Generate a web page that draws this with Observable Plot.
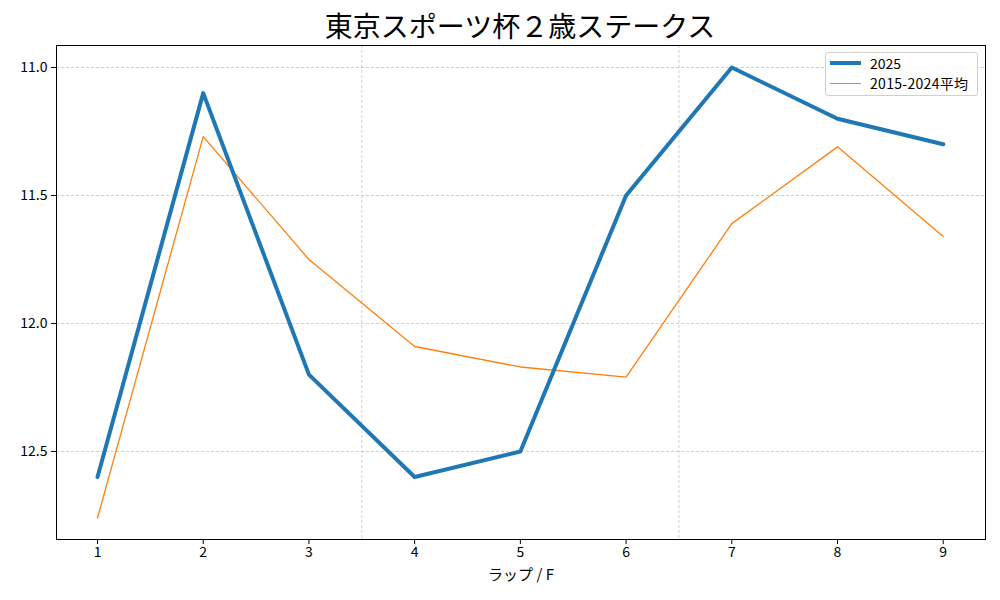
<!DOCTYPE html>
<html>
<head>
<meta charset="utf-8">
<script src="https://cdn.jsdelivr.net/npm/d3@7"></script>
<script src="https://cdn.jsdelivr.net/npm/@observablehq/plot@0.6"></script>
<style>
  html, body { margin:0; padding:0; background:#fff; }
  body { width:1000px; height:600px; overflow:hidden; font-family:"Noto Sans CJK JP","Noto Sans",sans-serif; }
  #wrap { position:relative; width:1000px; height:600px; }
  #title { height:44px; line-height:50px; text-align:center; font-size:28px; color:#000; padding-left:40px; box-sizing:border-box; }
  #legend { position:absolute; left:825px; top:52px; width:153px; height:44px; border:1px solid #d0d0d0; border-radius:3px; background:rgba(255,255,255,0.85); box-sizing:border-box; font-size:14px; }
  .row { position:absolute; left:4px; height:20px; display:flex; align-items:center; }
  .sw { width:31px; margin-right:9px; }
</style>
</head>
<body>
<div id="wrap">
  <div id="title">東京スポーツ杯２歳ステークス</div>
  <div id="chart"></div>
  <div id="legend">
    <div class="row" style="top:0px"><div class="sw" style="border-top:4px solid #1f77b4"></div><span>2025</span></div>
    <div class="row" style="top:20px"><div class="sw" style="border-top:1.3px solid #ff7f0e"></div><span style="letter-spacing:0.3px">2015-2024平均</span></div>
  </div>
</div>
<script>
const laps = [1, 2, 3, 4, 5, 6, 7, 8, 9];
const series2025 = [12.60, 11.10, 12.20, 12.60, 12.50, 11.50, 11.00, 11.20, 11.30];
const seriesAvg = [12.76, 11.27, 11.75, 12.09, 12.17, 12.21, 11.61, 11.31, 11.66];
const yTicks = [11.0, 11.5, 12.0, 12.5];
const dividers = [3.5, 6.5];
const xLabel = "ラップ / F";

const d2025 = laps.map((l, i) => ({lap: l, t: series2025[i]}));
const dAvg = laps.map((l, i) => ({lap: l, t: seriesAvg[i]}));

const font = '"Noto Sans CJK JP","Noto Sans",sans-serif';
const chart = Plot.plot({
  width: 1000,
  height: 556,
  marginLeft: 56,
  marginRight: 15,
  marginTop: 1,
  marginBottom: 61,
  style: {fontFamily: font, fontSize: "14px", color: "#000", background: "#fff"},
  x: {domain: [0.612, 9.4], label: null},
  y: {domain: [10.914, 12.844], reverse: true, label: null},
  marks: [
    Plot.gridY(yTicks, {stroke: "#b0b0b0", strokeOpacity: 1, strokeWidth: 0.6, strokeDasharray: "3,2"}),
    Plot.ruleX(dividers, {stroke: "#b0b0b0", strokeOpacity: 1, strokeWidth: 0.6, strokeDasharray: "3,2"}),
    Plot.line(dAvg, {x: "lap", y: "t", stroke: "#ff7f0e", strokeWidth: 1.3}),
    Plot.line(d2025, {x: "lap", y: "t", stroke: "#1f77b4", strokeWidth: 4}),
    Plot.frame({stroke: "#000", strokeWidth: 1}),
    Plot.axisX(laps, {tickSize: 5, tickPadding: 3, tickFormat: d => String(d), label: null, fontSize: 14}),
    Plot.axisY(yTicks, {tickSize: 5, tickPadding: 4, tickFormat: d3.format(".1f"), label: null, fontSize: 14}),
    Plot.text([xLabel], {frameAnchor: "bottom", dy: 40, fontSize: 15, fill: "#000"})
  ]
});
document.getElementById("chart").appendChild(chart);
</script>
</body>
</html>
